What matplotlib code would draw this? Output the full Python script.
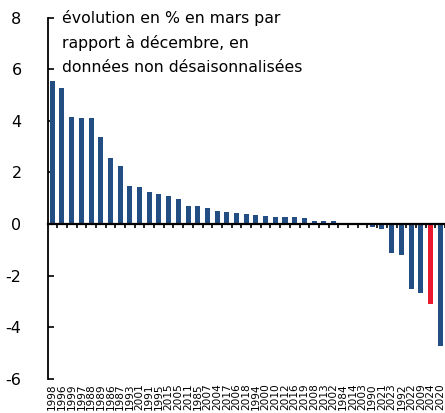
import numpy as np
import matplotlib
matplotlib.use("Agg")
import matplotlib.pyplot as plt

# evolution in % (March vs December), sorted descending
years = ["1998", "1996", "1999", "1997", "1988", "1989", "1986", "1987",
         "1993", "2001", "1991", "1995", "2015", "2005", "2011", "1985",
         "2007", "2004", "2017", "2006", "2018", "1994", "2000", "2010",
         "2012", "2016", "2019", "2008", "2013", "2002", "1984", "2014",
         "2003", "1990", "2021", "2023", "1992", "2022", "2009", "2024",
         "2020"]
values = [5.55, 5.26, 4.15, 4.13, 4.10, 3.36, 2.56, 2.25, 1.47, 1.43,
          1.23, 1.15, 1.07, 0.97, 0.72, 0.71, 0.63, 0.49, 0.45, 0.43,
          0.41, 0.34, 0.31, 0.29, 0.27, 0.27, 0.23, 0.14, 0.14, 0.14,
          0.01, 0.0, -0.01, -0.12, -0.19, -1.10, -1.18, -2.53, -2.65,
          -3.11, -4.72]
highlight = "2024"

title = "évolution en % en mars par\nrapport à décembre, en\ndonnées non désaisonnalisées"

blue = "#234e83"
red = "#e8192c"

plt.rcParams["axes.unicode_minus"] = False

fig = plt.figure(figsize=(4.45, 4.13), dpi=100)
ax = fig.add_axes([48 / 445, 1 - 379 / 413, 397 / 445, (379 - 17.6) / 413])

x = np.arange(len(values))
colors = [red if y == highlight else blue for y in years]
ax.bar(x, values, width=0.52, color=colors, zorder=2)

ax.set_xlim(-0.44, 40.1)
ax.set_ylim(-6, 8)
ax.set_yticks(range(-6, 9, 2))
ax.tick_params(axis="y", direction="in", length=4.5, width=1.2, pad=19,
               labelsize=11.5)

for s in ["top", "right"]:
    ax.spines[s].set_visible(False)
ax.spines["left"].set_linewidth(1.3)
ax.spines["bottom"].set_position(("data", 0))
ax.spines["bottom"].set_linewidth(1.6)
ax.spines["bottom"].set_zorder(3)
ax.set_xticks(x + 0.5)
ax.set_xticklabels([])
ax.tick_params(axis="x", direction="out", length=3, width=1.2)

# year labels along the bottom, rotated like the original
sec = ax.secondary_xaxis(0)
sec.set_xticks(x, labels=years, rotation=90, fontsize=7.6)
sec.tick_params(length=0, pad=3)
sec.spines["bottom"].set_visible(False)

ax.text(62 / 445, 1 - 10 / 413, title, transform=fig.transFigure,
        fontsize=11.3, va="top", ha="left", linespacing=1.72)

fig.savefig("out.png", dpi=100)
